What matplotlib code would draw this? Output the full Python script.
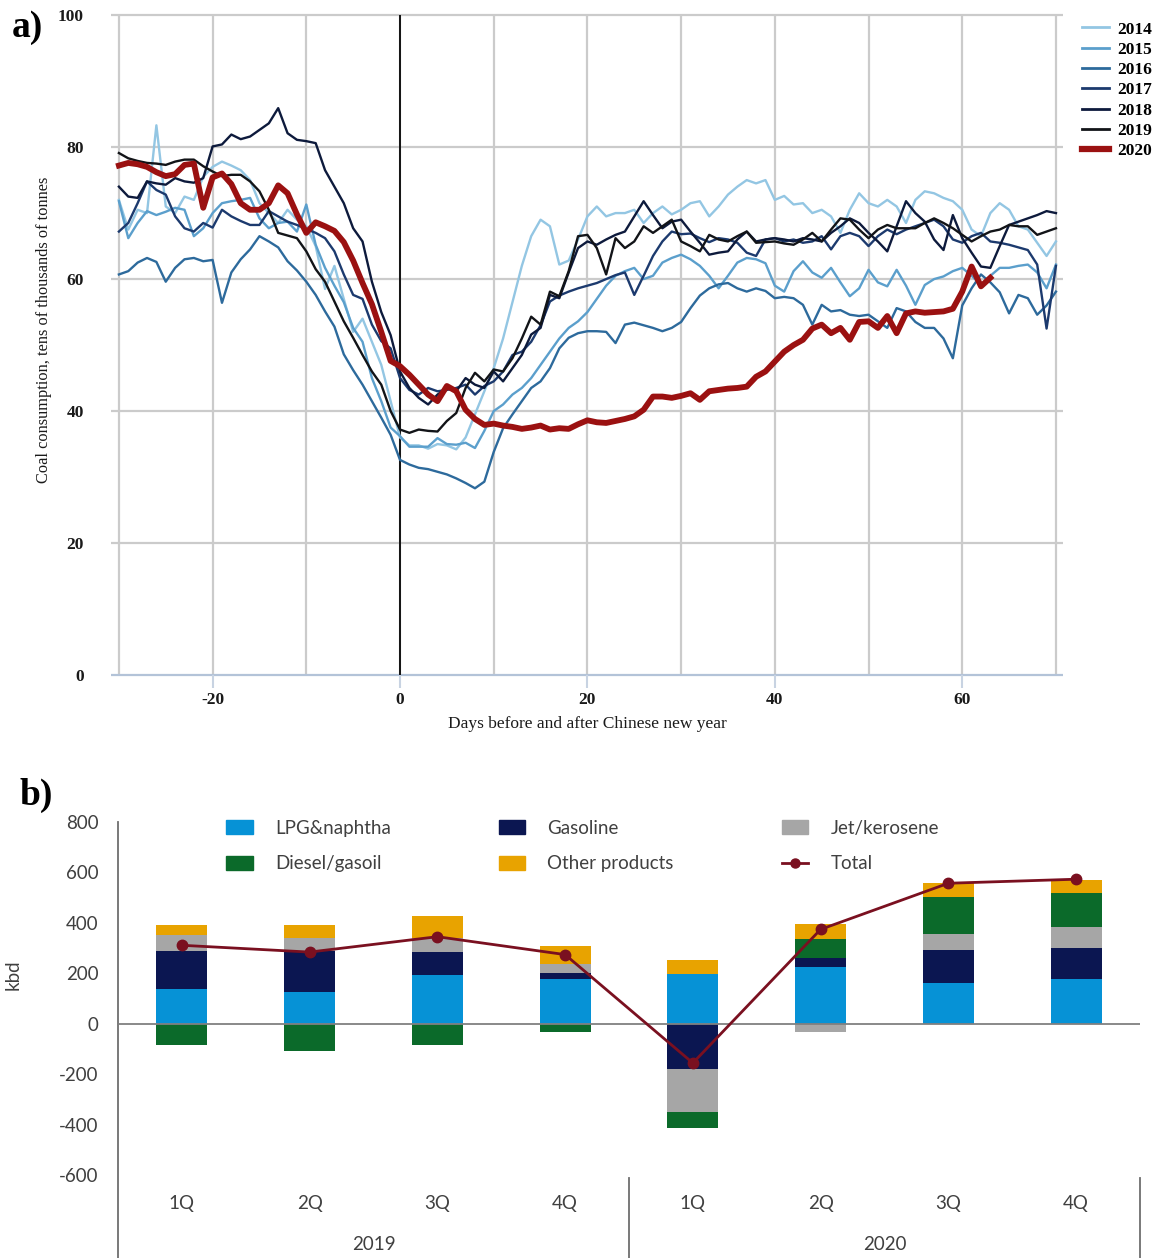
import numpy as np
import matplotlib
matplotlib.use("Agg")
import matplotlib.pyplot as plt
from matplotlib.patches import Patch
from matplotlib.lines import Line2D

plt.rcParams["axes.unicode_minus"] = False

# ---------------- panel a: daily coal consumption around Chinese new year ----------------
days = np.arange(-30, 71)
days_2020 = np.arange(-30, 64)

coal_2014 = [
    72.0, 67.5, 70.5, 70.0, 83.3, 71.0, 70.0, 72.5, 72.0, 75.5,
    77.0, 77.8, 77.2, 76.5, 75.0, 71.5, 70.0, 68.5, 70.5, 69.0,
    68.0, 65.0, 58.5, 62.0, 57.0, 52.0, 54.0, 50.5, 47.0, 41.5,
    36.0, 34.8, 34.8, 34.3, 35.0, 34.8, 34.2, 36.0, 39.5, 43.0,
    46.5, 51.0, 56.5, 62.0, 66.5, 69.0, 68.0, 62.2, 62.8, 66.0,
    69.5, 71.0, 69.5, 70.0, 70.0, 70.5, 68.5, 70.0, 71.0, 69.8,
    70.5, 71.5, 71.8, 69.5, 71.0, 72.8, 74.0, 75.0, 74.5, 75.0,
    72.0, 72.6, 71.3, 71.5, 70.0, 70.5, 69.5, 67.0, 70.5, 73.0,
    71.5, 71.0, 72.0, 71.0, 68.5, 72.0, 73.3, 73.0, 72.3, 71.8,
    70.5, 67.5, 66.5, 70.0, 71.5, 70.5, 68.0, 67.5, 65.5, 63.5,
    65.7]

coal_2015 = [
    71.8, 66.2, 68.5, 70.3, 69.7, 70.2, 70.8, 70.5, 66.5, 67.7,
    70.0, 71.5, 71.8, 72.0, 72.3, 69.2, 67.7, 68.5, 68.7, 67.2,
    71.3, 65.2, 61.7, 59.0, 56.5, 52.6, 50.5, 45.0, 41.5, 37.5,
    36.2, 34.6, 34.6, 34.6, 35.9, 35.0, 34.9, 35.2, 34.4, 37.0,
    40.0, 41.0, 42.5, 43.5, 45.0, 47.0, 49.0, 51.0, 52.6, 53.6,
    55.0, 57.0, 59.0, 60.5, 61.2, 61.7, 60.0, 60.5, 62.5, 63.2,
    63.7, 63.0, 62.0, 60.5, 58.6, 60.5, 62.5, 63.2, 63.0, 62.4,
    59.0, 58.1, 61.2, 62.7, 61.0, 60.2, 61.7, 59.5, 57.4, 58.6,
    61.4, 59.5, 58.9, 61.4, 59.0, 56.1, 59.1, 60.0, 60.4, 61.2,
    61.7, 60.5, 59.1, 60.5, 61.7, 61.7, 62.0, 62.2, 61.0, 58.6,
    62.2]

coal_2016 = [
    60.7, 61.2, 62.5, 63.2, 62.6, 59.6, 61.7, 63.0, 63.2, 62.7,
    62.9, 56.4, 61.0, 63.0, 64.5, 66.5, 65.7, 64.8, 62.7, 61.3,
    59.6, 57.6, 55.1, 52.8, 48.6, 46.2, 44.0, 41.5, 39.0, 36.4,
    32.6, 31.9, 31.4, 31.2, 30.8, 30.4, 29.8, 29.1, 28.3, 29.3,
    33.8, 37.4, 39.5, 41.5, 43.5, 44.5, 46.5, 49.5, 51.1, 51.8,
    52.1, 52.1, 52.0, 50.3, 53.1, 53.4, 53.0, 52.6, 52.1, 52.6,
    53.5, 55.6, 57.5, 58.6, 59.2, 59.4, 58.6, 58.1, 58.6, 58.2,
    57.1, 57.3, 57.1, 56.1, 53.1, 56.1, 55.1, 55.3, 54.6, 54.4,
    54.6, 53.6, 52.6, 55.6, 55.1, 53.5, 52.6, 52.6, 51.0, 48.0,
    56.0, 58.6, 60.7, 59.5, 58.0, 54.8, 57.6, 57.1, 54.6, 56.0,
    58.1]

coal_2017 = [
    67.2, 68.5, 71.5, 74.8, 73.5, 72.8, 69.5, 67.7, 67.2, 68.5,
    67.8, 70.5, 69.5, 68.8, 68.2, 68.2, 70.3, 69.5, 68.7, 68.2,
    67.6, 67.0, 66.2, 64.2, 60.7, 57.6, 57.0, 53.1, 50.6, 49.5,
    45.0, 43.2, 42.5, 43.5, 43.0, 43.2, 43.5, 44.0, 42.5, 43.8,
    44.5, 46.0, 48.5, 49.0, 50.5, 53.0, 56.6, 57.5, 58.1, 58.6,
    59.0, 59.4, 60.0, 60.6, 61.0, 57.6, 60.5, 63.5, 65.7, 67.2,
    66.8, 66.9, 66.2, 65.6, 66.2, 66.0, 65.5, 64.0, 63.5, 66.0,
    66.2, 65.7, 66.0, 65.5, 65.7, 66.5, 64.5, 66.5, 67.0, 66.5,
    65.0, 66.5, 67.5, 66.8, 67.5, 68.0, 68.5, 69.0, 68.0, 66.0,
    65.5, 66.5, 67.0, 65.7, 65.5, 65.2, 64.8, 64.4, 62.2, 52.5,
    62.0]

coal_2018 = [
    74.0, 72.5, 72.3, 74.8, 74.5, 74.3, 75.3, 74.8, 74.6, 75.3,
    80.1, 80.4, 81.9, 81.2, 81.6, 82.6, 83.6, 85.9, 82.1, 81.1,
    80.9, 80.6, 76.5, 74.0, 71.5, 67.7, 65.7, 59.6, 55.0, 51.5,
    46.0, 43.5, 42.0, 41.0, 42.5, 43.5, 43.0, 45.0, 44.0, 43.5,
    46.0, 44.5, 46.5, 48.5, 51.6, 52.6, 57.6, 57.1, 61.0, 64.7,
    65.7, 65.2, 66.0, 66.7, 67.2, 69.5, 71.8, 69.7, 67.7, 68.7,
    69.0, 67.2, 65.5, 63.7, 64.0, 64.2, 66.0, 67.2, 65.7, 66.0,
    66.2, 66.0, 65.7, 66.2, 66.0, 65.7, 67.0, 68.0, 69.2, 68.5,
    67.0, 65.7, 64.2, 68.0, 71.8, 70.0, 68.7, 66.0, 64.4, 69.7,
    66.2, 64.0, 61.9, 61.7, 65.0, 68.2, 68.7, 69.2, 69.7, 70.3,
    70.0]

coal_2019 = [
    79.1, 78.3, 77.9, 77.6, 77.5, 77.3, 77.8, 78.1, 78.1, 77.1,
    76.3, 75.6, 75.8, 75.8, 74.8, 73.3, 70.5, 67.0, 66.6, 66.2,
    64.2, 61.5, 59.6, 56.6, 53.6, 51.1, 48.5, 46.0, 44.0, 40.0,
    37.2, 36.7, 37.2, 37.0, 36.9, 38.5, 39.7, 43.5, 45.8, 44.5,
    46.3, 46.0, 48.0, 51.0, 54.3, 53.1, 58.1, 57.4, 61.2, 66.5,
    66.7, 64.7, 60.7, 66.2, 64.7, 65.7, 68.0, 67.0, 68.0, 69.0,
    65.7, 65.0, 64.2, 66.7, 66.0, 65.7, 66.5, 67.2, 65.5, 65.6,
    65.7, 65.4, 65.2, 66.0, 67.0, 65.7, 67.5, 69.2, 69.0, 67.5,
    66.2, 67.5, 68.2, 67.7, 67.7, 67.7, 68.5, 69.2, 68.5, 67.7,
    66.7, 65.7, 66.5, 67.2, 67.5, 68.2, 68.0, 68.0, 66.7, 67.2,
    67.7]

coal_2020 = [
    77.2, 77.6, 77.4, 77.0, 76.2, 75.6, 75.9, 77.3, 77.5, 70.8,
    75.4, 76.0, 74.4, 71.5, 70.5, 70.5, 71.5, 74.2, 73.0, 69.8,
    67.0, 68.6, 68.0, 67.3, 65.6, 62.8, 59.4, 56.2, 52.0, 47.6,
    46.8, 45.5, 44.0, 42.5, 41.5, 43.8, 43.0, 40.2, 38.8, 37.9,
    38.1, 37.8, 37.6, 37.3, 37.5, 37.8, 37.2, 37.4, 37.3, 38.0,
    38.6, 38.3, 38.2, 38.5, 38.8, 39.2, 40.2, 42.2, 42.2, 42.0,
    42.3, 42.7, 41.7, 43.0, 43.2, 43.4, 43.5, 43.7, 45.2, 46.0,
    47.5, 49.0, 50.0, 50.8, 52.5, 53.1, 51.8, 52.6, 50.8, 53.5,
    53.6, 52.6, 54.4, 51.8, 54.8, 55.1, 54.9, 55.0, 55.1, 55.5,
    58.1, 61.9, 58.9, 60.2]

years = ["2014", "2015", "2016", "2017", "2018", "2019"]
year_series = [coal_2014, coal_2015, coal_2016, coal_2017, coal_2018, coal_2019]
year_colors = ["#93c6e3", "#5b9fcc", "#2d6a9c", "#1c3a6e", "#0d1a3c", "#121418"]
color_2020 = "#9b1111"

# ---------------- panel b: oil demand growth by product ----------------
quarters = ["1Q", "2Q", "3Q", "4Q", "1Q", "2Q", "3Q", "4Q"]
year_groups = ["2019", "2020"]
products = ["LPG&naphtha", "Gasoline", "Jet/kerosene", "Diesel/gasoil", "Other products"]
lpg_naphtha = [139, 125, 192, 179, 196, 225, 160, 176]
gasoline = [151, 163, 94, 23, -179, 36, 133, 125]
jet_kerosene = [60, 52, 55, 36, -172, -31, 64, 81]
diesel_gasoil = [-86, -107, -86, -32, -61, 76, 145, 135]
other_products = [40, 50, 86, 69, 56, 60, 57, 54]
total_growth = [311, 284, 345, 274, -156, 374, 557, 573]
product_colors = ["#0692d6", "#0b1651", "#a6a6a6", "#0b6a2a", "#e8a300"]
total_color = "#7a1020"

serif = "Liberation Serif"
sans = "Lato"

fig = plt.figure(figsize=(11.69, 12.58), dpi=100)

# ---------- panel a ----------
ax1 = fig.add_axes([0.0953, 0.4634, 0.8144, 0.5246])
ax1.set_xlim(-30.8, 70.8)
ax1.set_ylim(0, 100)
for s in ax1.spines.values():
    s.set_visible(False)

grid_c = "#cbcbcb"
ax1.hlines([20, 40, 60, 80, 100], -30.8, 70.8, color=grid_c, lw=1.6, zorder=0, clip_on=False)
ax1.vlines(np.arange(-30, 71, 10), 0, 100, color=grid_c, lw=1.6, zorder=0, clip_on=False)
ax1.hlines(0, -30.8, 70.8, color="#b3c3d8", lw=1.6, zorder=1, clip_on=False)
ax1.vlines(0, 0, 100, color="#111111", lw=1.4, zorder=2, clip_on=False)

for yr, vals, col in zip(years, year_series, year_colors):
    ax1.plot(days, vals, color=col, lw=1.7, zorder=3, label=yr)
ax1.plot(days_2020, coal_2020, color=color_2020, lw=4.2, zorder=4, label="2020",
         solid_joinstyle="round")

ax1.set_xticks([-20, 0, 20, 40, 60])
ax1.set_yticks([0, 20, 40, 60, 80, 100])
ax1.tick_params(axis="x", length=9, width=1.5, color="#c8d3e2", pad=3)
ax1.tick_params(axis="y", length=0, pad=20)
for lab in ax1.get_xticklabels() + ax1.get_yticklabels():
    lab.set_fontfamily(serif)
    lab.set_fontweight("bold")
    lab.set_fontsize(12.5)
    lab.set_color("#1a1a1a")

ax1.set_xlabel("Days before and after Chinese new year", fontfamily=serif,
               fontsize=12.5, color="#1a1a1a", labelpad=6)
ax1.set_ylabel("Coal consumption, tens of thousands of tonnes", fontfamily=serif,
               fontsize=11.8, color="#1a1a1a")
ax1.yaxis.set_label_coords(-0.062, 0.523)

leg_a_handles = [Line2D([], [], color=c, lw=2.0) for c in year_colors]
leg_a_handles.append(Line2D([], [], color=color_2020, lw=4.5))
fig.legend(leg_a_handles, years + ["2020"], loc="upper left",
           bbox_to_anchor=(0.926, 0.983), frameon=False,
           prop=dict(family=serif, weight="bold", size=12.5),
           handlelength=1.55, handletextpad=0.45, labelspacing=0.24,
           borderaxespad=0, borderpad=0)

fig.text(0.010, 0.978, "a)", fontfamily=serif, fontweight="bold", fontsize=27,
         va="center", ha="left")

# ---------- panel b ----------
ax2 = fig.add_axes([0.1009, 0.066, 0.8743, 0.2806])
ax2.set_xlim(-0.5, 7.5)
ax2.set_ylim(-600, 800)
for s in ax2.spines.values():
    s.set_visible(False)

x = np.arange(len(quarters))
pos_base = np.zeros(len(x))
neg_base = np.zeros(len(x))
for name, vals, col in zip(products,
                           [lpg_naphtha, gasoline, jet_kerosene, diesel_gasoil, other_products],
                           product_colors):
    v = np.array(vals, dtype=float)
    bottoms = np.where(v >= 0, pos_base, neg_base)
    ax2.bar(x, v, 0.4, bottom=bottoms, color=col, zorder=2, label=name)
    pos_base = pos_base + np.clip(v, 0, None)
    neg_base = neg_base + np.clip(v, None, 0)

ax2.axhline(0, color="#808080", lw=1.3, zorder=3)
ax2.plot(x, total_growth, color=total_color, lw=2.0, marker="o", markersize=7.5,
         zorder=4, label="Total")

ax2.set_xticks([])
ax2.set_yticks(np.arange(-600, 801, 200))
ax2.tick_params(axis="y", length=0, pad=14, labelsize=13.5, labelcolor="#404040")
for lab in ax2.get_yticklabels():
    lab.set_fontfamily(sans)
ax2.set_ylabel("kbd", fontfamily=sans, fontsize=13.5, color="#404040")
ax2.yaxis.set_label_coords(-0.094, 0.567)

axis_c = "#6e6e6e"
ax2.plot([0, 0], [1, -0.236], transform=ax2.transAxes, color=axis_c, lw=1.3, clip_on=False)
for xs in (3.5, 7.5):
    ax2.plot([xs, xs], [-0.008, -0.236], transform=ax2.get_xaxis_transform(),
             color=axis_c, lw=1.3, clip_on=False)
for xi, q in zip(x, quarters):
    ax2.text(xi, -0.082, q, transform=ax2.get_xaxis_transform(), ha="center",
             va="center", fontfamily=sans, fontsize=13.5, color="#404040")
for xc, g in zip((1.5, 5.5), year_groups):
    ax2.text(xc, -0.198, g, transform=ax2.get_xaxis_transform(), ha="center",
             va="center", fontfamily=sans, fontsize=13.5, color="#404040")

leg_b_handles = [Patch(color=c) for c in product_colors]
leg_b_handles.append(Line2D([], [], color=total_color, lw=2.0, marker="o", markersize=6.5))
order = [0, 3, 1, 4, 2, 5]
leg_b = ax2.legend([leg_b_handles[i] for i in order],
                   [(products + ["Total"])[i] for i in order],
                   ncol=3, loc="upper left", bbox_to_anchor=(0.106, 1.007),
                   frameon=False, prop=dict(family=sans, size=13.5),
                   handlelength=1.4, handleheight=0.75, handletextpad=1.2,
                   columnspacing=5.75, labelspacing=1.0, borderaxespad=0, borderpad=0)
for t in leg_b.get_texts():
    t.set_color("#404040")

fig.text(0.017, 0.368, "b)", fontfamily=serif, fontweight="bold", fontsize=27,
         va="center", ha="left")

fig.savefig("out.png", dpi=100)
